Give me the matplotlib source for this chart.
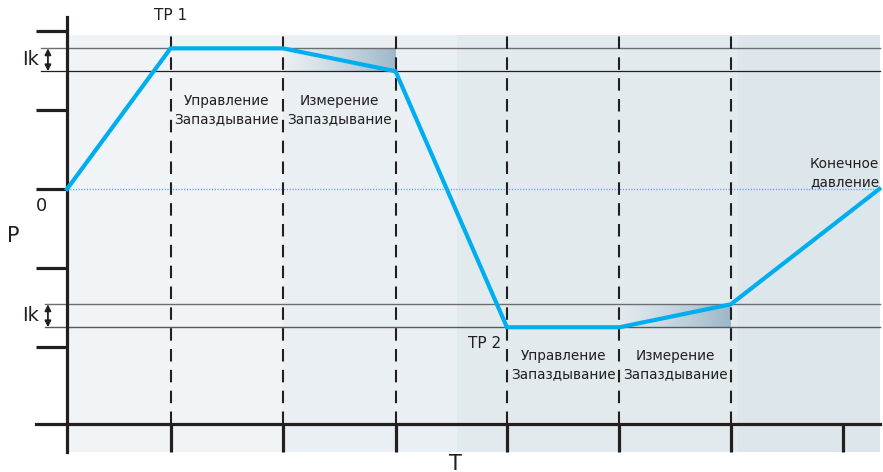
import numpy as np
import matplotlib.pyplot as plt
from matplotlib.colors import to_rgb

# time axis (one unit = one tick step), pressure axis (one unit = one tick step)
t_points = [0.0, 0.92, 1.92, 2.92, 3.91, 4.91, 5.9, 7.22]
p_points = [0.0, 1.78, 1.78, 1.49, -1.75, -1.75, -1.46, 0.0]
t_dashed = [0.92, 1.92, 2.92, 3.91, 4.91, 5.9]
t_ticks = [0.92, 1.92, 2.92, 3.91, 4.91, 5.9, 6.9]
p_ticks = [2, 1, 0, -1, -2]
ik_upper = [1.49, 1.78]
ik_lower = [-1.75, -1.46]
band_edges = [0.0, 1.92, 3.47, 5.96, 7.23]
band_colors = ['#f0f4f7', '#eaeff3', '#e3eaee', '#dde6eb']
phase_labels = ['Управление\nЗапаздывание', 'Измерение\nЗапаздывание']

BLUE = '#00aeef'
INK = '#231f20'

fig = plt.figure(figsize=(8.83, 4.72), dpi=100)
ax = fig.add_axes([0, 0, 1, 1])
ax.axis('off')
plt.rcParams['font.family'] = ['DejaVu Sans']

# background bands
p_top, p_bot = 1.95, -3.33
for i in range(len(band_colors)):
    ax.fill_between([band_edges[i], band_edges[i + 1]], p_bot, p_top,
                    color=band_colors[i], lw=0, zorder=0)

# gradient fills in measurement delay
def gradient(t0, t1, p0, p1):
    rgba = np.zeros((2, 256, 4))
    rgba[..., :3] = to_rgb('#86a8bd')
    rgba[..., 3] = np.linspace(0, 0.8, 256) ** 1.2
    ax.imshow(rgba, extent=[t0, t1, p0, p1], aspect='auto',
              origin='lower', zorder=1, interpolation='bilinear')

gradient(t_dashed[1], t_dashed[2], ik_upper[0], ik_upper[1])
gradient(t_dashed[4], t_dashed[5], ik_lower[0], ik_lower[1])
ax.set_xlim(-0.596, 7.253)
ax.set_ylim(-3.582, 2.392)

# Ik reference lines
x_end = 7.23
ax.plot([-0.23, x_end], [ik_upper[1]] * 2, color='#6d6e70', lw=1.0, zorder=2)
ax.plot([-0.23, x_end], [ik_upper[0]] * 2, color='#231f20', lw=0.9, zorder=2)
ax.plot([-0.2, x_end], [ik_lower[1]] * 2, color='#6d6e70', lw=1.0, zorder=2)
ax.plot([-0.2, x_end], [ik_lower[0]] * 2, color='#58595b', lw=1.0, zorder=2)

for lo, hi in [ik_upper, ik_lower]:
    ax.annotate('', xy=(-0.17, lo), xytext=(-0.17, hi),
                arrowprops=dict(arrowstyle='<|-|>', color=INK, lw=1.3,
                                mutation_scale=9, shrinkA=0, shrinkB=0))
    ax.text(-0.25, (lo + hi) / 2, 'Ik', fontsize=14, color=INK,
            ha='right', va='center')

# zero line
ax.plot([0, t_points[-1]], [0, 0], color='#29b8f0', lw=1.0, ls=(0, (0.8, 1.2)), zorder=2)

# dashed phase lines
x_axis_p = -2.97
for t in t_dashed:
    ax.plot([t, t], [x_axis_p, 2.03], color=INK, lw=1.5,
            ls=(0, (6, 4)), zorder=3)

# axes
ax.plot([0, 0], [p_bot, 2.18], color=INK, lw=2.3, zorder=4)
ax.plot([-0.276, 7.23], [x_axis_p, x_axis_p], color=INK, lw=2.3, zorder=4)
for p in p_ticks:
    ax.plot([-0.276, 0], [p, p], color=INK, lw=2.3, zorder=4, solid_capstyle='butt')
for t in t_ticks:
    ax.plot([t, t], [x_axis_p, p_bot], color=INK, lw=2.3, zorder=4, solid_capstyle='butt')

# pressure curve
ax.plot(t_points, p_points, color=BLUE, lw=3.0, zorder=5, solid_joinstyle='miter')

# labels
fs = 9.8
ax.text(t_dashed[0], 2.2, 'TP 1', fontsize=11, color=INK, ha='center', va='center')
ax.text(t_dashed[3] - 0.05, -1.95, 'TP 2', fontsize=11, color=INK, ha='right', va='center')
for k, i in enumerate([0, 1]):
    mid = (t_dashed[i] + t_dashed[i + 1]) / 2
    ax.text(mid, 1.0, phase_labels[k], fontsize=fs, color=INK,
            ha='center', va='center', linespacing=1.4)
for k, i in enumerate([3, 4]):
    mid = (t_dashed[i] + t_dashed[i + 1]) / 2
    ax.text(mid, -2.23, phase_labels[k], fontsize=fs, color=INK,
            ha='center', va='center', linespacing=1.4)
ax.text(7.22, 0.2, 'Конечное\nдавление', fontsize=fs, color=INK,
        ha='right', va='center', linespacing=1.4)
ax.text(-0.23, -0.22, '0', fontsize=13, color=INK, ha='center', va='center')
ax.text(-0.48, -0.6, 'P', fontsize=15, color=INK, ha='center', va='center')
ax.text(3.45, -3.35, 'T', fontsize=15, color=INK, ha='center', va='top')

fig.savefig('out.png', dpi=100)
